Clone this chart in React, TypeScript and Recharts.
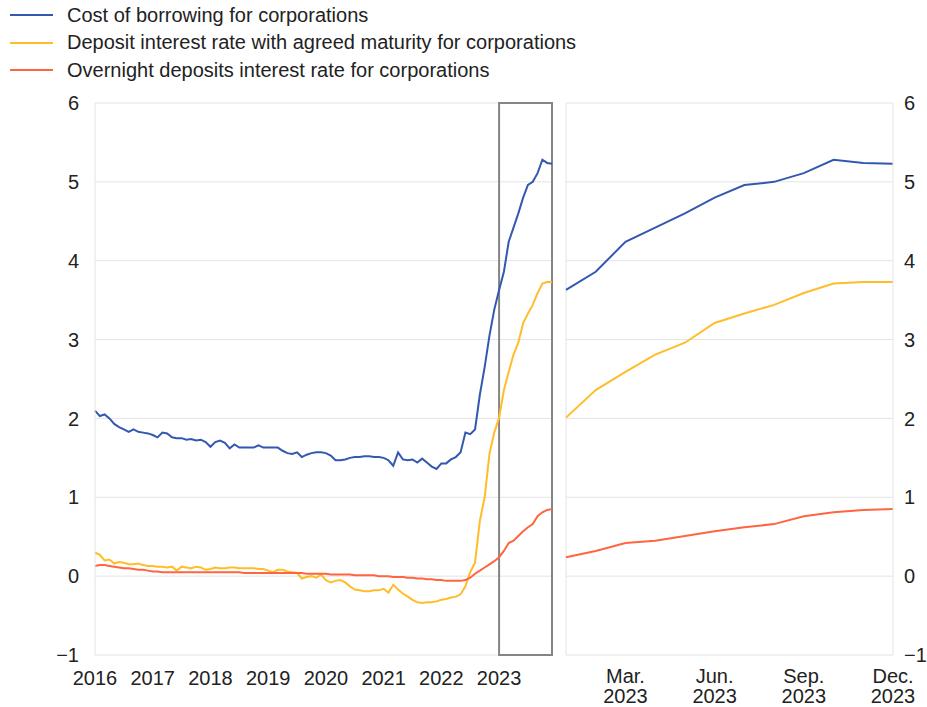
import { LineChart, Line, XAxis, YAxis, CartesianGrid, ReferenceArea, ReferenceLine } from 'recharts'

// series names, colours
const SERIES = [
  { key: 'borrowing', name: 'Cost of borrowing for corporations', color: '#3358b0' },
  { key: 'agreed', name: 'Deposit interest rate with agreed maturity for corporations', color: '#ffbd2a' },
  { key: 'overnight', name: 'Overnight deposits interest rate for corporations', color: '#ff6540' },
]

const YEARS = ['2016', '2017', '2018', '2019', '2020', '2021', '2022', '2023']
const ZOOM_MONTHS = ['Jan.', 'Feb.', 'Mar.', 'Apr.', 'May', 'Jun.', 'Jul.', 'Aug.', 'Sep.', 'Oct.', 'Nov.', 'Dec.']
const Y_TICKS = [-1, 0, 1, 2, 3, 4, 5, 6]

// monthly, Jan 2016 .. Dec 2023
const borrowing = [
  2.1, 2.03, 2.05, 2.0, 1.93, 1.89, 1.86, 1.83, 1.86, 1.83, 1.82, 1.81,
  1.79, 1.76, 1.82, 1.81, 1.76, 1.75, 1.75, 1.73, 1.74, 1.72, 1.73, 1.7,
  1.64, 1.7, 1.72, 1.69, 1.62, 1.67, 1.63, 1.63, 1.63, 1.63, 1.66, 1.63,
  1.63, 1.63, 1.63, 1.59, 1.56, 1.55, 1.57, 1.51, 1.54, 1.56, 1.57, 1.57,
  1.56, 1.53, 1.47, 1.47, 1.48, 1.5, 1.51, 1.51, 1.52, 1.52, 1.51, 1.51,
  1.5, 1.47, 1.4, 1.57, 1.48, 1.47, 1.48, 1.44, 1.49, 1.44, 1.39, 1.36,
  1.43, 1.43, 1.48, 1.51, 1.57, 1.82, 1.8, 1.86, 2.3, 2.65, 3.05, 3.38,
  3.63, 3.86, 4.24, 4.42, 4.6, 4.8, 4.96, 5.0, 5.11, 5.28, 5.24, 5.23,
]
const agreed = [
  0.3, 0.27, 0.2, 0.21, 0.16, 0.18, 0.17, 0.15, 0.15, 0.16, 0.14, 0.13,
  0.13, 0.12, 0.12, 0.11, 0.12, 0.07, 0.12, 0.11, 0.1, 0.12, 0.11, 0.08,
  0.09, 0.11, 0.1, 0.1, 0.11, 0.11, 0.1, 0.1, 0.1, 0.1, 0.09, 0.09,
  0.07, 0.05, 0.08, 0.08, 0.06, 0.05, 0.04, -0.03, -0.01, 0.0, -0.02, 0.02,
  -0.05, -0.08, -0.06, -0.05, -0.08, -0.13, -0.17, -0.18, -0.19, -0.19, -0.18, -0.18,
  -0.16, -0.21, -0.11, -0.17, -0.22, -0.26, -0.3, -0.33, -0.34, -0.33, -0.33, -0.32,
  -0.3, -0.29, -0.27, -0.26, -0.23, -0.13, 0.05, 0.17, 0.7, 1.0, 1.55, 1.82,
  2.01, 2.36, 2.59, 2.81, 2.96, 3.21, 3.33, 3.44, 3.59, 3.71, 3.73, 3.73,
]
const overnight = [
  0.13, 0.14, 0.14, 0.13, 0.12, 0.11, 0.1, 0.1, 0.09, 0.08, 0.08, 0.07,
  0.06, 0.06, 0.05, 0.05, 0.05, 0.05, 0.05, 0.05, 0.05, 0.05, 0.05, 0.05,
  0.05, 0.05, 0.05, 0.05, 0.05, 0.05, 0.05, 0.04, 0.04, 0.04, 0.04, 0.04,
  0.04, 0.04, 0.04, 0.04, 0.04, 0.04, 0.04, 0.04, 0.03, 0.03, 0.03, 0.03,
  0.03, 0.02, 0.02, 0.02, 0.02, 0.02, 0.01, 0.01, 0.01, 0.01, 0.01, 0.0,
  0.0, 0.0, -0.01, -0.01, -0.01, -0.02, -0.02, -0.03, -0.03, -0.04, -0.04, -0.05,
  -0.05, -0.06, -0.06, -0.06, -0.06, -0.05, -0.02, 0.03, 0.07, 0.11, 0.15, 0.19,
  0.24, 0.32, 0.42, 0.45, 0.51, 0.57, 0.62, 0.66, 0.76, 0.81, 0.84, 0.85,
]

const FONT = '"Liberation Sans", Arial, sans-serif'
const TEXT = '#222'
const GRID = '#e4e4e4'

const fullData = borrowing.map((_, i) => ({
  idx: i,
  year: YEARS[Math.floor(i / 12)],
  borrowing: borrowing[i],
  agreed: agreed[i],
  overnight: overnight[i],
}))
// last year only, for the zoom panel
const zoomStart = borrowing.length - 12
const zoomData = fullData.slice(zoomStart).map((d, i) => ({ ...d, idx: i, month: ZOOM_MONTHS[i] }))

const fmtY = (v: number) => (v < 0 ? `\u2212${Math.abs(v)}` : `${v}`)

const ZoomTick = (props: any) => {
  const { x, y, payload } = props
  const d = zoomData[payload.value]
  return (
    <text x={x} y={y} textAnchor="middle" fontSize={20} fill={TEXT} fontFamily={FONT}>
      <tspan x={x} dy={28}>{d.month}</tspan>
      <tspan x={x} dy={20}>{d.year}</tspan>
    </text>
  )
}

function Legend() {
  return (
    <div style={{ position: 'absolute', left: 0, top: 0, fontFamily: FONT, fontSize: 20, color: TEXT }}>
      {SERIES.map((s, i) => (
        <div
          key={s.key}
          style={{ position: 'absolute', left: 10, top: 2 + i * 27.5, height: 26, display: 'flex', alignItems: 'center', whiteSpace: 'nowrap' }}
        >
          <span style={{ display: 'inline-block', width: 43, height: 2, background: s.color, marginRight: 14 }} />
          <span>{s.name}</span>
        </div>
      ))}
    </div>
  )
}

export default function App() {
  const tickStyle = { fontSize: 20, fill: TEXT, fontFamily: FONT }
  return (
    <div style={{ position: 'absolute', left: 0, top: 0, width: 927, height: 707, background: '#fff', overflow: 'hidden' }}>
      <Legend />

      {/* full history 2016-2023 */}
      <div style={{ position: 'absolute', left: 0, top: 0 }}>
        <LineChart width={560} height={707} data={fullData} margin={{ top: 103, right: 8, left: 0, bottom: 0 }}>
          <CartesianGrid vertical={false} stroke={GRID} />
          <XAxis
            dataKey="idx"
            type="number"
            domain={[0, 95]}
            ticks={[0, 12, 24, 36, 48, 60, 72, 84]}
            tickFormatter={(v: number) => YEARS[v / 12]}
            tick={tickStyle}
            tickLine={false}
            axisLine={false}
            tickSize={0}
            tickMargin={16}
            height={52}
          />
          <YAxis
            domain={[-1, 6]}
            ticks={Y_TICKS}
            tickFormatter={fmtY}
            tick={tickStyle}
            tickLine={false}
            axisLine={{ stroke: GRID }}
            tickSize={0}
            tickMargin={16}
            width={95}
          />
          {SERIES.map((s) => (
            <Line key={s.key} dataKey={s.key} stroke={s.color} strokeWidth={2} dot={false} isAnimationActive={false} />
          ))}
          <ReferenceArea x1={zoomStart} x2={95} y1={-1} y2={6} fill="none" fillOpacity={0} stroke="#858585" strokeWidth={2} ifOverflow="visible" />
        </LineChart>
      </div>

      {/* 2023 detail */}
      <div style={{ position: 'absolute', left: 560, top: 0 }}>
        <LineChart width={367} height={707} data={zoomData} margin={{ top: 103, right: 0, left: 6, bottom: 0 }}>
          <CartesianGrid vertical={false} stroke={GRID} />
          <XAxis
            dataKey="idx"
            type="number"
            domain={[0, 11]}
            ticks={[2, 5, 8, 11]}
            tick={<ZoomTick />}
            tickLine={false}
            axisLine={false}
            tickSize={0}
            tickMargin={0}
            height={52}
            interval={0}
          />
          <YAxis
            orientation="right"
            domain={[-1, 6]}
            ticks={Y_TICKS}
            tickFormatter={fmtY}
            tick={{ ...tickStyle, textAnchor: 'start' }}
            tickLine={false}
            axisLine={{ stroke: GRID }}
            tickSize={0}
            tickMargin={11}
            width={34}
          />
          <ReferenceLine x={0} stroke={GRID} />
          {SERIES.map((s) => (
            <Line key={s.key} dataKey={s.key} stroke={s.color} strokeWidth={2} dot={false} isAnimationActive={false} />
          ))}
        </LineChart>
      </div>
    </div>
  )
}
